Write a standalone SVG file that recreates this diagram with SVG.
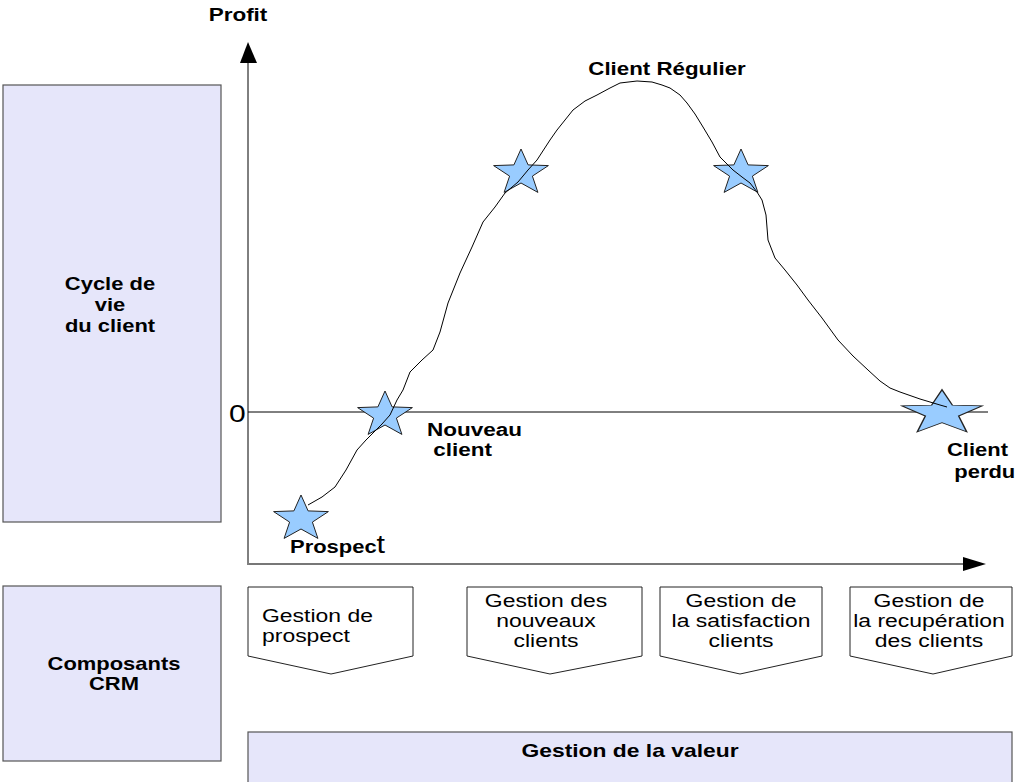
<svg xmlns="http://www.w3.org/2000/svg" width="1017" height="782" viewBox="0 0 1017 782">
<style>
.box{fill:#e6e6fa;stroke:#555;stroke-width:1.2}
.chev{fill:#fff;stroke:#222;stroke-width:1}
.b{font-family:"Liberation Sans",Arial,sans-serif;font-weight:bold;font-size:18px;fill:#000}
.r{font-family:"Liberation Sans",Arial,sans-serif;font-size:18.5px;fill:#000}
.star{fill:#99ccff;stroke:#222;stroke-width:1}
</style>
<defs>
<polygon id="st" points="0,-24 7.1,-8.1 27.4,-7.4 11.4,3.1 16.9,19.4 0,10 -16.9,19.4 -11.4,3.1 -27.4,-7.4 -7.1,-8.1"/>
</defs>
<rect width="1017" height="782" fill="#fff"/>

<g id="cycle-box">
<rect class="box" x="3" y="85" width="218" height="437"/>
<text class="b" text-anchor="middle" transform="translate(110,0) scale(1.22,1)"><tspan x="0" y="290">Cycle de</tspan><tspan x="0" y="311">vie</tspan><tspan x="0" y="332">du client</tspan></text>
</g>
<g id="crm-box">
<rect class="box" x="3" y="586" width="218" height="175"/>
<text class="b" text-anchor="middle" transform="translate(114,0) scale(1.22,1)"><tspan x="0" y="670">Composants</tspan><tspan x="0" y="690">CRM</tspan></text>
</g>
<g id="valeur-box">
<rect class="box" x="248" y="732" width="764" height="60"/>
<text class="b" text-anchor="middle" transform="translate(630,0) scale(1.27,1)"><tspan x="0" y="757">Gestion de la valeur</tspan></text>
</g>

<g id="axes">
<line x1="248" y1="62" x2="248" y2="565" stroke="#000" stroke-width="1"/>
<polygon points="248,42 240,63 257,63" fill="#000"/>
<line x1="249" y1="564" x2="965" y2="564" stroke="#777" stroke-width="2"/>
<polygon points="963,557 963,571 986,564" fill="#000"/>
<line x1="248" y1="412" x2="988" y2="412" stroke="#000" stroke-width="1"/>
<text class="r" style="font-size:24px" transform="translate(229,0) scale(1.25,1)"><tspan x="0" y="422">0</tspan></text>
<text class="b" text-anchor="middle" transform="translate(238,0) scale(1.25,1)"><tspan x="0" y="21">Profit</tspan></text>
</g>

<g id="stars">
<use href="#st" class="star" transform="translate(301,519)"/>
<use href="#st" class="star" transform="translate(385,415)"/>
<use href="#st" class="star" transform="translate(521,173)"/>
<use href="#st" class="star" transform="translate(741,173)"/>
<use href="#st" class="star" transform="translate(942,413) scale(1.46,0.97)"/>
</g>

<g id="connectors">
<path fill="none" stroke="#000" stroke-width="1" stroke-linejoin="round" d="M308,505 L322,497 L335,487 L346,470 L357,450 L366,440 L373,433 L382,424 L390,415 L397,400 L403,390 L410,372 L422,360 L433,350 L440,332 L448,303 L460,273 L472,247 L483,222 L495,207 L505,193 L518,182 L528,170 L537,160 L550,140 L557,130 L565,120 L573,110 L585,101 L597,95 L610,88 L620,83 L637,81 L652,82 L662,85 L670,88 L680,95 L687,103 L695,114 L703,127 L712,142 L720,157 L733,170 L742,177 L750,183 L757,192 L762,200 L766,215 L768,240 L775,258 L785,270 L797,285 L808,300 L822,318 L838,340 L853,356 L868,370 L880,381 L890,388 L900,392 L920,399 L940,405 L947,407"/>
</g>

<g id="labels">
<text class="b" text-anchor="middle" transform="translate(667,0) scale(1.24,1)"><tspan x="0" y="75">Client Régulier</tspan></text>
<text class="b" transform="translate(427,0) scale(1.25,1)"><tspan x="0" y="436">Nouveau</tspan><tspan x="5" y="456">client</tspan></text>
<text class="b" transform="translate(290,0) scale(1.22,1)"><tspan x="0" y="553">Prospec</tspan><tspan style="font-weight:normal;font-size:25px">t</tspan></text>
<text class="b" transform="translate(947,0) scale(1.22,1)"><tspan x="0" y="456">Client</tspan><tspan x="6" y="478">perdu</tspan></text>
</g>

<g id="chev1">
<polygon class="chev" points="248,587 413,587 413,656 331,674 248,656"/>
<text class="r" transform="translate(262,0) scale(1.24,1)"><tspan x="0" y="622">Gestion de</tspan><tspan x="0" y="642">prospect</tspan></text>
</g>
<g id="chev2">
<polygon class="chev" points="467,587 642,587 642,656 550,674 467,656"/>
<text class="r" text-anchor="middle" transform="translate(546,0) scale(1.24,1)"><tspan x="0" y="607">Gestion des</tspan><tspan x="0" y="627">nouveaux</tspan><tspan x="0" y="647">clients</tspan></text>
</g>
<g id="chev3">
<polygon class="chev" points="660,587 822,587 822,656 740,674 660,656"/>
<text class="r" text-anchor="middle" transform="translate(741,0) scale(1.24,1)"><tspan x="0" y="607">Gestion de</tspan><tspan x="0" y="627">la satisfaction</tspan><tspan x="0" y="647">clients</tspan></text>
</g>
<g id="chev4">
<polygon class="chev" points="850,587 1012,587 1012,656 933,674 850,656"/>
<text class="r" text-anchor="middle" transform="translate(929,0) scale(1.24,1)"><tspan x="0" y="607">Gestion de</tspan><tspan x="0" y="627">la recupération</tspan><tspan x="0" y="647">des clients</tspan></text>
</g>
</svg>
